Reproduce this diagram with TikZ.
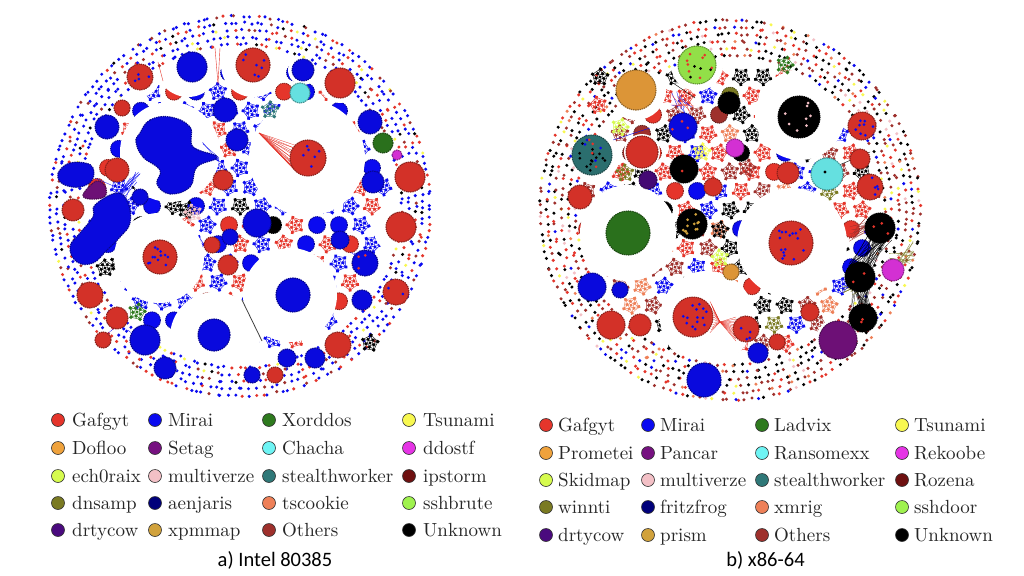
\documentclass[tikz,border=0pt]{standalone}
\usepackage{fontspec}
\newfontfamily\capfont{Carlito}
\newfontfamily\lgff{lmroman10-regular.otf}
\definecolor{cGaf}{HTML}{E5352B}
\definecolor{cMir}{HTML}{0A0AF0}
\definecolor{cGrn}{HTML}{2E7A1E}
\definecolor{cYel}{HTML}{F8F850}
\definecolor{cOrg}{HTML}{EFA23C}
\definecolor{cPur}{HTML}{761180}
\definecolor{cCya}{HTML}{6EF4F4}
\definecolor{cMag}{HTML}{E534E5}
\definecolor{cYgr}{HTML}{D6FB4E}
\definecolor{cPnk}{HTML}{F3C0C6}
\definecolor{cTea}{HTML}{2F7878}
\definecolor{cDrd}{HTML}{6E1010}
\definecolor{cOli}{HTML}{7A7A22}
\definecolor{cNav}{HTML}{00007A}
\definecolor{cSal}{HTML}{EE8058}
\definecolor{cLgr}{HTML}{9FF24E}
\definecolor{cInd}{HTML}{4A0A7E}
\definecolor{cGld}{HTML}{D1A23C}
\definecolor{cOth}{HTML}{9E302C}
\definecolor{cUnk}{HTML}{000000}
% palettes
\colorlet{La0}{cMir}\colorlet{La1}{cMir}\colorlet{La2}{cMir}\colorlet{La3}{cMir}\colorlet{La4}{cMir}
\colorlet{La5}{cMir}\colorlet{La6}{cMir}\colorlet{La7}{cMir}\colorlet{La8}{cMir}\colorlet{La9}{cMir}
\colorlet{La10}{cGaf}\colorlet{La11}{cGaf}\colorlet{La12}{cGaf}\colorlet{La13}{cGaf}\colorlet{La14}{cMir}
\colorlet{La15}{cUnk}\colorlet{La16}{cOth}\colorlet{La17}{cYel}\colorlet{La18}{cMir}\colorlet{La19}{cOth}
\colorlet{Sa0}{cMir}\colorlet{Sa1}{cMir}\colorlet{Sa2}{cMir}\colorlet{Sa3}{cMir}\colorlet{Sa4}{cMir}
\colorlet{Sa5}{cMir}\colorlet{Sa6}{cMir}\colorlet{Sa7}{cMir}\colorlet{Sa8}{cMir}\colorlet{Sa9}{cMir}
\colorlet{Sa10}{cMir}\colorlet{Sa11}{cMir}\colorlet{Sa12}{cMir}\colorlet{Sa13}{cGaf}\colorlet{Sa14}{cGaf}
\colorlet{Sa15}{cGaf}\colorlet{Sa16}{cGaf}\colorlet{Sa17}{cGaf}\colorlet{Sa18}{cMir}\colorlet{Sa19}{cUnk}
\colorlet{Lb0}{cUnk}\colorlet{Lb1}{cUnk}\colorlet{Lb2}{cUnk}\colorlet{Lb3}{cUnk}\colorlet{Lb4}{cUnk}
\colorlet{Lb5}{cUnk}\colorlet{Lb6}{cOth}\colorlet{Lb7}{cOth}\colorlet{Lb8}{cOth}\colorlet{Lb9}{cOth}
\colorlet{Lb10}{cOth}\colorlet{Lb11}{cGaf}\colorlet{Lb12}{cGaf}\colorlet{Lb13}{cGaf}\colorlet{Lb14}{cGaf}
\colorlet{Lb15}{cMir}\colorlet{Lb16}{cMir}\colorlet{Lb17}{cPnk}\colorlet{Lb18}{cYel}\colorlet{Lb19}{cSal}
\colorlet{Sb0}{cGaf}\colorlet{Sb1}{cGaf}\colorlet{Sb2}{cGaf}\colorlet{Sb3}{cGaf}\colorlet{Sb4}{cGaf}
\colorlet{Sb5}{cGaf}\colorlet{Sb6}{cOth}\colorlet{Sb7}{cOth}\colorlet{Sb8}{cOth}\colorlet{Sb9}{cMir}
\colorlet{Sb10}{cMir}\colorlet{Sb11}{cMir}\colorlet{Sb12}{cMir}\colorlet{Sb13}{cUnk}\colorlet{Sb14}{cUnk}
\colorlet{Sb15}{cUnk}\colorlet{Sb16}{cOth}\colorlet{Sb17}{cGaf}\colorlet{Sb18}{cOli}\colorlet{Sb19}{cSal}

\newcommand\lgfont{\lgff\fontsize{19}{21}\selectfont}
\newcommand\cpfont{\capfont\fontsize{20.5}{22}\selectfont}

\tikzset{
  mk/.style={circle, draw=black!80, line width=0.6pt, inner sep=0pt, minimum size=13pt},
  lg/.style={anchor=base west, inner sep=0pt, font=\lgfont, text=black!85},
  captext/.style={anchor=base, inner sep=0pt, font=\cpfont, text=black},
  thin line/.style={line width=0.3pt},
  bumpy/.style={fill=#1!92!black, draw=#1!60!black, line width=1.1pt, dash pattern=on 1.4pt off 0.8pt},
}

\newcommand\blob[4]{\fill[bumpy=#4] (#1,#2) circle (#3);}
\newcommand\sblob[2]{\fill[bumpy=#1] plot[smooth cycle, tension=0.7] coordinates {#2};}
\newcommand\hole[3]{\fill[white] (#1,#2) circle (#3);}
\newcommand\sprinkle[5]{%
  \foreach \q in {1,...,#5}{%
    \pgfmathsetmacro\sa{rnd*360}%
    \pgfmathsetmacro\sr{sqrt(rnd)*0.8*#3}%
    \fill[fill=#4] ({#1+\sr*cos(\sa)},{#2+\sr*sin(\sa)}) circle (1.5);
  }}
\newcommand\starcl[4]{%
  \begin{scope}[shift={(#1,#2)}, rotate=#4]
    \draw[draw=#3, line width=0.45pt] (0:8)--(72:8)--(144:8)--(216:8)--(288:8)--cycle
      (0:8)--(144:8)--(288:8)--(72:8)--(216:8)--cycle;
    \foreach \a in {0,72,...,288}{\fill[fill=#3] (\a:8) circle (1.9); \fill[fill=#3] (\a+36:4.3) circle (1.7);}
    \fill[fill=#3] (0,0) circle (1.7);
  \end{scope}}
\newcommand\starfield[6]{%
  \foreach \jj in {-8,...,8}{%
    \foreach \ii in {-8,...,8}{%
      \pgfmathsetmacro\sx{\ii*#5 + mod(abs(\jj),2)*#5/2}%
      \pgfmathsetmacro\sy{\jj*#5*0.866}%
      \pgfmathtruncatemacro\ins{veclen(\sx,\sy)<#3}%
      \ifnum\ins=1
        \pgfmathtruncatemacro\k{random(0,19)}%
        \pgfmathsetmacro\rot{rnd*72}%
        \pgfmathtruncatemacro\ty{random(0,#6)}%
        \ifnum\ty=0
          \fill[fill=#4\k, draw=#4\k!60!black, line width=0.9pt, dash pattern=on 1.2pt off 0.8pt] ({#1+\sx},{#2+\sy}) circle (8.5);
        \else
          \starcl{#1+\sx}{#2+\sy}{#4\k}{\rot}%
        \fi
      \fi
    }}}
\newcommand\dotrings[4]{%
  \foreach \R in {#4}{%
    \pgfmathtruncatemacro\nd{2*pi*\R/6.6}%
    \pgfmathsetmacro\stp{360/\nd}%
    \foreach \i in {1,...,\nd}{%
      \pgfmathtruncatemacro\k{random(0,19)}%
      \pgfmathsetmacro\ang{\stp*\i + \R + rnd*2}%
      \fill[fill=#3\k] ({#1+\R*cos(\ang)+rand},{#2+\R*sin(\ang)+rand}) circle (1.7);
    }}}
\newcommand\legitem[6]{%
  \node[mk, fill=#5] (m#1) at (#2,#3) {};
  \node[lg] (t#1) at (#4,#3+6) {#6};}

\begin{document}
\begin{tikzpicture}[x=1pt,y=-1pt]
\useasboundingbox (0,0) rectangle (1024,575);
\fill[white] (0,0) rectangle (1024,575);
\pgfmathsetseed{4242}

% ================= LEFT CIRCLE =================
\starfield{240}{206}{152}{Sa}{22}{2}
\hole{188}{65}{32}
\hole{253}{65}{32}
\hole{140}{77}{20}
\hole{340}{83}{20}
\hole{303}{70}{15}
\hole{170}{152}{50}
\hole{307}{158}{58}
\hole{159}{258}{45}
\hole{290}{295}{47}
\hole{215}{337}{45}
\hole{401}{227}{28}
\hole{410}{177}{20}
\dotrings{240}{206}{La}{162,169,176,183,190}

% lines
\foreach \t in {-55,-45,...,45}{\draw[cGaf, thin line] (259,133) -- ({308+18*cos(180+\t)},{158+18*sin(180+\t)});}
\foreach \t in {-40,-25,...,35}{\draw[cGaf, thin line] (263,137) -- ({308+18*cos(180+\t)},{158+18*sin(180+\t)});}
\draw[cGaf, line width=0.4pt] (215,48)--(218,84) (220,48)--(218,84) (158,62)--(163,81);
\draw[black!75, line width=0.8pt] (242,300)--(262,341);
\foreach \t in {1,...,10}{\draw[cMir, thin line] ({195+rand*8},{152+rand*10})--(219,{160+rand*3});}
\foreach \t in {1,...,10}{\draw[cMir, thin line] ({118+rand*8},{200+rand*8})--({135+rand*6},{178+rand*6});}
\foreach \t in {1,...,6}{\draw[cMir, thin line] ({355+rand*6},{255+rand*6})--({365+rand*8},{265+rand*8});}
\draw[cMir, thin line] (95,178)--(118,188) (128,330)--(150,350) (100,340)--(118,325);

% blobs
\sblob{cMir}{(140,133) (150,120) (170,117) (190,127) (193,147) (217,157) (197,167) (190,187) (170,194) (157,184) (160,170) (143,157) (136,142)}
\sblob{cMir}{(95,205) (117,193) (128,203) (130,223) (120,237) (107,250) (93,263) (77,262) (70,247) (80,233) (93,217)}
\sblob{cMir}{(60,170) (70,163) (85,163) (93,168) (92,180) (80,187) (65,185) (58,178)}
\sblob{cPur}{(83,195) (92,184) (99,181) (106,188) (104,197) (90,199)}
\blob{192}{67}{15}{cMir}
\blob{253}{65}{17}{cGaf}\sprinkle{253}{65}{17}{cMir}{7}
\blob{140}{77}{13}{cGaf}\sprinkle{140}{77}{13}{cMir}{4}
\blob{303}{70}{11}{cMir}
\blob{340}{83}{15}{cGaf}
\blob{300}{93}{10}{cCya}
\blob{308}{158}{18}{cGaf}\sprinkle{308}{158}{18}{cMir}{6}
\blob{237}{140}{11}{cMir}
\blob{225}{110}{12}{cMir}
\blob{107}{127}{12}{cMir}
\blob{117}{170}{12}{cGaf}
\blob{73}{210}{11}{cGaf}
\blob{160}{257}{17}{cGaf}\sprinkle{160}{257}{17}{cMir}{12}
\blob{293}{295}{17}{cMir}
\blob{214}{335}{16}{cMir}
\blob{410}{177}{15}{cGaf}
\blob{401}{227}{15}{cGaf}
\blob{365}{263}{13}{cMir}\sprinkle{365}{263}{13}{cGaf}{3}
\blob{396}{292}{13}{cGaf}\sprinkle{396}{292}{13}{cMir}{2}
\blob{338}{345}{13}{cGaf}
\blob{90}{295}{13}{cGaf}
\blob{117}{318}{11}{cGaf}
\blob{145}{340}{15}{cMir}
\blob{165}{368}{11}{cMir}
\blob{103}{340}{8}{cGaf}
\blob{373}{182}{11}{cMir}
\blob{370}{122}{12}{cMir}
\blob{383}{143}{10}{cGrn}
\blob{397}{155}{5}{cMag}
\blob{223}{180}{10}{cGaf}
\blob{257}{223}{14}{cMir}
\blob{228}{265}{10}{cGaf}
\blob{230}{237}{8}{cMir}
\blob{140}{197}{8}{cMir}
\blob{287}{358}{9}{cMir}
\blob{315}{358}{10}{cMir}
\blob{275}{375}{8}{cGaf}
\blob{252}{375}{8}{cMir}
\blob{212}{245}{8}{cGaf}
\blob{340}{240}{9}{cMir}
\blob{362}{300}{10}{cMir}
\blob{122}{108}{8}{cGaf}
\starcl{370}{343}{cUnk}{10}
\starcl{105}{268}{cUnk}{20}
\starcl{137}{312}{cGrn}{5}
\starcl{270}{110}{cTea}{15}
\starcl{187}{210}{cUnk}{0}
\starcl{193}{213}{cPnk}{30}

% ================= RIGHT CIRCLE =================
\starfield{730}{210}{145}{Sb}{22}{5}
\hole{636}{90}{30}
\hole{697}{65}{26}
\hole{592}{155}{28}
\hole{800}{115}{45}
\hole{628}{233}{48}
\hole{792}{243}{55}
\hole{707}{318}{47}
\hole{704}{380}{22}
\hole{642}{152}{18}
\hole{838}{340}{22}
\dotrings{730}{210}{Lb}{155,162,169,176,183,190}

% lines
\foreach \t in {-6,...,6}{\draw[cGaf, thin line] ({706+8*cos(\t*10)},{317+\t*2.6}) -- (720,322) -- (736,{329+\t*2});}
\foreach \t in {1,...,30}{\draw[black, line width=0.25pt] ({880+rand*12},{236+rand*6}) -- ({860+rand*12},{268+rand*6});}
\foreach \t in {1,...,25}{\draw[black, line width=0.25pt] ({860+rand*12},{285+rand*6}) -- ({863+rand*12},{310+rand*6});}
\foreach \t in {1,...,18}{\draw[cOth, line width=0.25pt] ({852+rand*4},{232+rand*10}) -- ({875+rand*10},{225+rand*8});}
\foreach \t in {1,...,14}{\draw[cOli, line width=0.3pt] ({895+rand*8},{262+rand*10}) -- ({912+rand*3},{255+rand*14});}
\foreach \t in {1,...,14}{\draw[cOli, line width=0.3pt] ({848+rand*6},{290+rand*6}) -- ({862+rand*8},{282+rand*6});}
\foreach \t in {1,...,12}{\draw[cMir, thin line] ({678+rand*8},{98+rand*10}) -- ({685+rand*8},{110+rand*10});}
\foreach \t in {1,...,8}{\draw[cGaf, thin line] ({678+rand*8},{100+rand*8}) -- ({688+rand*8},{112+rand*8});}
\draw[cMir, line width=0.4pt] (613,140)--(650,128);
\draw[black, line width=0.4pt] (673,83)--(695,98) (832,168)--(870,152);

% blobs
\blob{636}{90}{20}{cOrg}
\blob{697}{65}{19}{cLgr}\sprinkle{697}{65}{19}{cGaf}{8}\sprinkle{697}{65}{19}{cUnk}{4}
\blob{592}{155}{20}{cTea}\sprinkle{592}{155}{20}{cUnk}{14}\sprinkle{592}{155}{20}{cMir}{4}\sprinkle{592}{155}{20}{cGaf}{4}
\blob{642}{152}{16}{cGaf}
\blob{683}{127}{14}{cMir}\sprinkle{683}{127}{14}{cGaf}{3}
\blob{729}{103}{11}{cUnk}
\blob{799}{117}{21}{cUnk}\sprinkle{799}{117}{21}{cPnk}{8}
\blob{862}{126}{14}{cGaf}\sprinkle{862}{126}{14}{cMir}{8}
\blob{827}{174}{16}{cCya}\fill[black] (825,172) circle (1.6);
\blob{860}{159}{10}{cGaf}
\blob{870}{187}{13}{cGaf}\sprinkle{870}{187}{13}{cMir}{5}
\blob{684}{169}{14}{cUnk}\fill[cGaf] (682,171) circle (1.5);
\blob{788}{173}{11}{cGaf}
\blob{735}{148}{9}{cMag}
\blob{628}{233}{22}{cGrn}
\blob{791}{243}{22}{cGaf}\sprinkle{791}{243}{22}{cMir}{16}
\blob{692}{224}{15}{cUnk}\sprinkle{692}{224}{15}{cGld}{12}
\blob{580}{197}{12}{cGaf}
\blob{592}{287}{14}{cMir}
\blob{611}{325}{14}{cGaf}
\blob{640}{325}{11}{cGaf}
\blob{693}{317}{20}{cGaf}\sprinkle{693}{317}{20}{cMir}{14}
\blob{746}{329}{13}{cGaf}\sprinkle{746}{329}{13}{cMir}{4}
\blob{704}{380}{17}{cMir}
\blob{838}{340}{19}{cPur}
\blob{880}{228}{15}{cUnk}\sprinkle{880}{228}{15}{cGaf}{3}
\blob{860}{277}{15}{cUnk}\sprinkle{860}{277}{15}{cGaf}{2}
\blob{863}{318}{14}{cUnk}\sprinkle{863}{318}{14}{cGaf}{2}
\blob{893}{270}{11}{cMag}
\blob{777}{342}{8}{cGaf}
\blob{758}{353}{10}{cMir}
\blob{620}{290}{8}{cMir}
\blob{731}{272}{8}{cOrg}
\blob{810}{312}{9}{cGaf}
\blob{648}{180}{9}{cInd}
\blob{713}{187}{9}{cGaf}
\starcl{720}{230}{cUnk}{10}
\starcl{625}{173}{cOli}{20}
\starcl{620}{127}{cYgr}{0}
\starcl{598}{105}{cGaf}{30}
\starcl{600}{77}{cUnk}{15}
\starcl{747}{168}{cOth}{5}
\starcl{720}{258}{cYgr}{25}
\starcl{785}{65}{cGrn}{0}
\starcl{702}{152}{cYel}{12}

% ================= LEGENDS =================
\legitem{a1}{58}{420}{72}{cGaf}{Gafgyt}
\legitem{a2}{155}{420}{168}{cMir}{Mirai}
\legitem{a3}{269}{420}{282}{cGrn}{Xorddos}
\legitem{a4}{409}{420}{423}{cYel}{Tsunami}
\legitem{a5}{58}{448}{72}{cOrg}{Dofloo}
\legitem{a6}{155}{448}{168}{cPur}{Setag}
\legitem{a7}{269}{448}{282}{cCya}{Chacha}
\legitem{a8}{409}{448}{423}{cMag}{ddostf}
\legitem{a9}{58}{476}{72}{cYgr}{ech0raix}
\legitem{a10}{155}{476}{168}{cPnk}{multiverze}
\legitem{a11}{269}{476}{282}{cTea}{stealthworker}
\legitem{a12}{409}{476}{423}{cDrd}{ipstorm}
\legitem{a13}{58}{503}{72}{cOli}{dnsamp}
\legitem{a14}{155}{503}{168}{cNav}{aenjaris}
\legitem{a15}{269}{503}{282}{cSal}{tscookie}
\legitem{a16}{409}{503}{423}{cLgr}{sshbrute}
\legitem{a17}{58}{530}{72}{cInd}{drtycow}
\legitem{a18}{155}{530}{168}{cGld}{xpmmap}
\legitem{a19}{269}{530}{282}{cOth}{Others}
\legitem{a20}{409}{530}{423}{cUnk}{Unknown}
\node[captext] (capa) at (275,566) {a) Intel 80385};

\legitem{b1}{546}{425}{558}{cGaf}{Gafgyt}
\legitem{b2}{648}{425}{660}{cMir}{Mirai}
\legitem{b3}{762}{425}{774}{cGrn}{Ladvix}
\legitem{b4}{902}{425}{914}{cYel}{Tsunami}
\legitem{b5}{546}{453}{558}{cOrg}{Prometei}
\legitem{b6}{648}{453}{660}{cPur}{Pancar}
\legitem{b7}{762}{453}{774}{cCya}{Ransomexx}
\legitem{b8}{902}{453}{914}{cMag}{Rekoobe}
\legitem{b9}{546}{480}{558}{cYgr}{Skidmap}
\legitem{b10}{648}{480}{660}{cPnk}{multiverze}
\legitem{b11}{762}{480}{774}{cTea}{stealthworker}
\legitem{b12}{902}{480}{914}{cDrd}{Rozena}
\legitem{b13}{546}{507}{558}{cOli}{winnti}
\legitem{b14}{648}{507}{660}{cNav}{fritzfrog}
\legitem{b15}{762}{507}{774}{cSal}{xmrig}
\legitem{b16}{902}{507}{914}{cLgr}{sshdoor}
\legitem{b17}{546}{535}{558}{cInd}{drtycow}
\legitem{b18}{648}{535}{660}{cGld}{prism}
\legitem{b19}{762}{535}{774}{cOth}{Others}
\legitem{b20}{902}{535}{914}{cUnk}{Unknown}
\node[captext] (capb) at (765.5,566) {b) x86-64};
\end{tikzpicture}
\end{document}
